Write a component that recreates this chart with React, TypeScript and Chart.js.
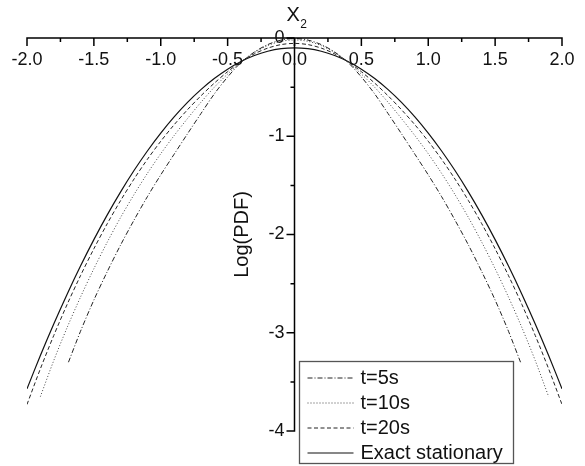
import { useEffect, useRef } from 'react';
import { Chart, registerables } from 'chart.js';

Chart.register(...registerables);

// Sample positions (X2) for each curve
const xFull = [
  -2.0, -1.9, -1.8, -1.7, -1.6, -1.5, -1.4, -1.3, -1.2, -1.1, -1.0, -0.9, -0.8, -0.7, -0.6, -0.5, -0.4, -0.3, -0.2, -0.1,
  0,
  0.1, 0.2, 0.3, 0.4, 0.5, 0.6, 0.7, 0.8, 0.9, 1.0, 1.1, 1.2, 1.3, 1.4, 1.5, 1.6, 1.7, 1.8, 1.9, 2.0,
];
const xT10 = [
  -1.9, -1.8, -1.7, -1.6, -1.5, -1.4, -1.3, -1.2, -1.1, -1.0, -0.9, -0.8, -0.7, -0.6, -0.5, -0.4, -0.3, -0.2, -0.1,
  0,
  0.1, 0.2, 0.3, 0.4, 0.5, 0.6, 0.7, 0.8, 0.9, 1.0, 1.1, 1.2, 1.3, 1.4, 1.5, 1.6, 1.7, 1.8, 1.9,
];
const xT5 = [
  -1.69, -1.6, -1.5, -1.4, -1.3, -1.2, -1.1, -1.0, -0.9, -0.8, -0.7, -0.6, -0.5, -0.4, -0.3, -0.2, -0.1,
  0,
  0.1, 0.2, 0.3, 0.4, 0.5, 0.6, 0.7, 0.8, 0.9, 1.0, 1.1, 1.2, 1.3, 1.4, 1.5, 1.6, 1.69,
];

// Log(PDF) values
const yT5 = [
  -3.300, -2.985, -2.667, -2.378, -2.106, -1.854, -1.615, -1.393, -1.183, -0.975, -0.770, -0.570, -0.397, -0.249, -0.143, -0.067, -0.021,
  -0.005,
  -0.021, -0.067, -0.143, -0.249, -0.397, -0.570, -0.770, -0.975, -1.183, -1.393, -1.615, -1.854, -2.106, -2.378, -2.667, -2.985, -3.300,
];
const yT10 = [
  -3.650, -3.283, -2.947, -2.637, -2.348, -2.078, -1.826, -1.594, -1.378, -1.178, -0.993, -0.820, -0.655, -0.502, -0.367, -0.244, -0.148, -0.077, -0.034,
  -0.020,
  -0.034, -0.077, -0.148, -0.244, -0.367, -0.502, -0.655, -0.820, -0.993, -1.178, -1.378, -1.594, -1.826, -2.078, -2.348, -2.637, -2.947, -3.283, -3.650,
];
const yT20 = [
  -3.730, -3.367, -3.028, -2.712, -2.419, -2.145, -1.890, -1.654, -1.436, -1.235, -1.051, -0.883, -0.730, -0.589, -0.460, -0.343, -0.242, -0.161, -0.103, -0.067,
  -0.055,
  -0.067, -0.103, -0.161, -0.242, -0.343, -0.460, -0.589, -0.730, -0.883, -1.051, -1.235, -1.436, -1.654, -1.890, -2.145, -2.419, -2.712, -3.028, -3.367, -3.730,
];
const yExact = [
  -3.570, -3.232, -2.911, -2.607, -2.321, -2.052, -1.800, -1.566, -1.349, -1.150, -0.968, -0.803, -0.655, -0.525, -0.412, -0.317, -0.239, -0.178, -0.135, -0.109,
  -0.100,
  -0.109, -0.135, -0.178, -0.239, -0.317, -0.412, -0.525, -0.655, -0.803, -0.968, -1.150, -1.349, -1.566, -1.800, -2.052, -2.321, -2.607, -2.911, -3.232, -3.570,
];

const seriesLabels = ['t=5s', 't=10s', 't=20s', 'Exact stationary'];

// Axis ticks
const xMajorTicks = [-2.0, -1.5, -1.0, -0.5, 0.0, 0.5, 1.0, 1.5, 2.0];
const xTickLabels = ['-2.0', '-1.5', '-1.0', '-0.5', '0.0', '0.5', '1.0', '1.5', '2.0'];
const xMinorTicks = [-1.75, -1.25, -0.75, -0.25, 0.25, 0.75, 1.25, 1.75];
const yMajorTicks = [0, -1, -2, -3, -4];
const yTickLabels = ['0', '-1', '-2', '-3', '-4'];
const yMinorTicks = [-0.5, -1.5, -2.5, -3.5];

const FAMILY = '"Liberation Sans", Arial, sans-serif';

const zip = (xs: number[], ys: number[]) => xs.map((x, i) => ({ x, y: ys[i] }));

// Origin-style crossing axes: X axis along y = 0, Y axis along x = 0
const crossAxesPlugin = {
  id: 'crossAxes',
  afterDatasetsDraw(chart: any) {
    const { ctx } = chart;
    const xs = chart.scales.x;
    const ys = chart.scales.y;
    const y0 = ys.getPixelForValue(0);
    const x0 = xs.getPixelForValue(0);
    const xl = xs.getPixelForValue(xMajorTicks[0]);
    const xr = xs.getPixelForValue(xMajorTicks[xMajorTicks.length - 1]);
    const yb = ys.getPixelForValue(yMajorTicks[yMajorTicks.length - 1]);

    ctx.save();
    ctx.strokeStyle = '#000';
    ctx.lineWidth = 1.5;
    ctx.lineCap = 'butt';

    // X axis line and ticks (ticks hang below the line)
    ctx.beginPath();
    ctx.moveTo(xl - 0.75, y0);
    ctx.lineTo(xr + 0.75, y0);
    xMajorTicks.forEach((v) => {
      const px = xs.getPixelForValue(v);
      ctx.moveTo(px, y0);
      ctx.lineTo(px, y0 + 8);
    });
    xMinorTicks.forEach((v) => {
      const px = xs.getPixelForValue(v);
      ctx.moveTo(px, y0);
      ctx.lineTo(px, y0 + 4);
    });
    ctx.stroke();

    // Y axis line and ticks (ticks point left)
    ctx.beginPath();
    ctx.moveTo(x0, y0);
    ctx.lineTo(x0, yb + 0.75);
    yMajorTicks.forEach((v) => {
      const py = ys.getPixelForValue(v);
      ctx.moveTo(x0, py);
      ctx.lineTo(x0 - 8, py);
    });
    yMinorTicks.forEach((v) => {
      const py = ys.getPixelForValue(v);
      ctx.moveTo(x0, py);
      ctx.lineTo(x0 - 4, py);
    });
    ctx.stroke();

    ctx.fillStyle = '#111';
    ctx.font = `18px ${FAMILY}`;
    ctx.textAlign = 'center';
    ctx.textBaseline = 'middle';
    xMajorTicks.forEach((v, i) => {
      ctx.fillText(xTickLabels[i], xs.getPixelForValue(v), y0 + 22);
    });
    ctx.textAlign = 'right';
    yMajorTicks.forEach((v, i) => {
      ctx.fillText(yTickLabels[i], x0 - 10, ys.getPixelForValue(v));
    });

    // Axis titles
    ctx.font = `20px ${FAMILY}`;
    ctx.textAlign = 'left';
    ctx.textBaseline = 'alphabetic';
    const tx = x0 - 8;
    ctx.fillText('X', tx, 21);
    const w = ctx.measureText('X').width;
    ctx.font = `12px ${FAMILY}`;
    ctx.fillText('2', tx + w + 0.5, 28);

    ctx.font = `20px ${FAMILY}`;
    ctx.translate(x0 - 52, (y0 + yb) / 2);
    ctx.rotate(-Math.PI / 2);
    ctx.textAlign = 'center';
    ctx.textBaseline = 'middle';
    ctx.fillText('Log(PDF)', 0, 0);
    ctx.restore();
  },
};

// Boxed legend in the lower right
const boxLegendPlugin = {
  id: 'boxLegend',
  afterDraw(chart: any) {
    const { ctx } = chart;
    const left = 299.5;
    const top = 361.5;
    const width = 214;
    const height = 102;
    ctx.save();
    ctx.fillStyle = '#fff';
    ctx.fillRect(left, top, width, height);
    ctx.strokeStyle = '#555';
    ctx.lineWidth = 1.3;
    ctx.strokeRect(left, top, width, height);

    chart.data.datasets.forEach((ds: any, i: number) => {
      const cy = top + 16 + i * 25;
      ctx.strokeStyle = ds.borderColor;
      ctx.lineWidth = ds.borderWidth;
      ctx.setLineDash(ds.borderDash || []);
      ctx.beginPath();
      ctx.moveTo(left + 8, cy + 0.5);
      ctx.lineTo(left + 54, cy + 0.5);
      ctx.stroke();
      ctx.setLineDash([]);
      ctx.fillStyle = '#111';
      ctx.font = `20px ${FAMILY}`;
      ctx.textAlign = 'left';
      ctx.textBaseline = 'middle';
      ctx.fillText(ds.label, left + 61, cy + 1);
    });
    ctx.restore();
  },
};

export default function App() {
  const canvasRef = useRef<HTMLCanvasElement | null>(null);

  useEffect(() => {
    if (!canvasRef.current) return;
    const common = { showLine: true, pointRadius: 0, fill: false, tension: 0.3 };
    const chart = new Chart(canvasRef.current, {
      type: 'scatter',
      data: {
        datasets: [
          { ...common, label: seriesLabels[0], data: zip(xT5, yT5), borderColor: '#222', borderWidth: 1, borderDash: [5, 2, 1, 2] },
          { ...common, label: seriesLabels[1], data: zip(xT10, yT10), borderColor: '#444', borderWidth: 1, borderDash: [1, 2] },
          { ...common, label: seriesLabels[2], data: zip(xFull, yT20), borderColor: '#222', borderWidth: 1, borderDash: [4, 2.5] },
          { ...common, label: seriesLabels[3], data: zip(xFull, yExact), borderColor: '#111', borderWidth: 1.2, borderDash: [] },
        ],
      },
      options: {
        responsive: false,
        animation: false,
        layout: { padding: { left: 27, right: 23, top: 38, bottom: 35 } },
        scales: {
          x: { type: 'linear', min: -2, max: 2, display: false },
          y: { type: 'linear', min: -4, max: 0, display: false },
        },
        plugins: {
          legend: { display: false },
          tooltip: { enabled: false },
        },
      },
      plugins: [crossAxesPlugin, boxLegendPlugin],
    } as any);
    return () => chart.destroy();
  }, []);

  return (
    <div style={{ position: 'fixed', left: 0, top: 0, width: 585, height: 466, background: '#fff' }}>
      <canvas ref={canvasRef} width={585} height={466} style={{ display: 'block', width: 585, height: 466 }} />
    </div>
  );
}
